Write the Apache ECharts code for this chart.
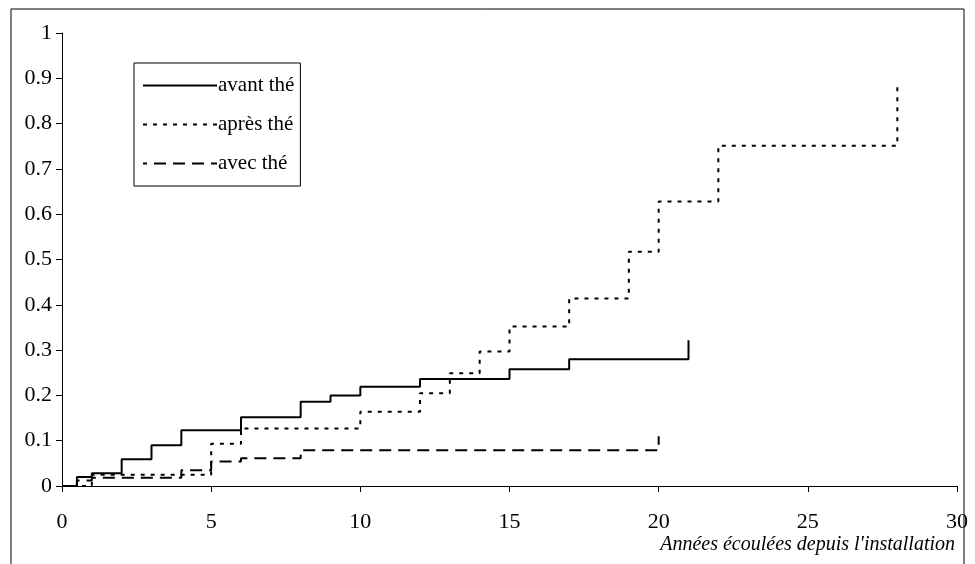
<!DOCTYPE html>
<html>
<head>
<meta charset="utf-8">
<script src="https://cdn.jsdelivr.net/npm/echarts@6/dist/echarts.min.js"></script>
<style>html,body{margin:0;padding:0;background:#fff}#c{width:975px;height:564px}</style>
</head>
<body>
<div id="c"></div>
<script>
// Data
var seriesNames = ['avant thé', 'après thé', 'avec thé'];
var avantX = [0, 0.5, 1, 2, 3, 4, 6, 8, 9, 10, 12, 15, 17, 21];
var avantY = [0, 0.02, 0.028, 0.059, 0.09, 0.123, 0.152, 0.186, 0.2, 0.219, 0.236, 0.258, 0.28, 0.322];
var apresX = [0, 1, 5, 6, 10, 12, 13, 14, 15, 17, 19, 20, 22, 28];
var apresY = [0, 0.025, 0.093, 0.127, 0.164, 0.205, 0.249, 0.297, 0.352, 0.414, 0.517, 0.628, 0.751, 0.892];
var avecX = [0, 0.5, 1, 4, 5, 6, 8, 20];
var avecY = [0, 0.012, 0.018, 0.035, 0.054, 0.061, 0.079, 0.11];
var xAxisTitle = "Années écoulées depuis l'installation";

function pairs(xs, ys) { return xs.map(function (x, i) { return [x, ys[i]]; }); }

var FONT = '"Liberation Serif", "DejaVu Serif", serif';
var chart = echarts.init(document.getElementById('c'), null, {renderer: 'canvas'});

function mk(name, xs, ys, type, offset) {
  return {
    name: name, type: 'line', step: 'end', data: pairs(xs, ys),
    symbol: 'none', showSymbol: false, animation: false,
    lineStyle: {color: '#000', width: 2, type: type, dashOffset: offset || 0, cap: 'butt'},
    itemStyle: {color: '#000'}
  };
}

chart.setOption({
  backgroundColor: '#fff',
  animation: false,
  textStyle: {fontFamily: FONT},
  grid: {left: 62, right: 18, top: 33, bottom: 78},
  legend: {
    orient: 'vertical', left: 134, top: 63,
    data: seriesNames,
    itemWidth: 74, itemHeight: 14, itemGap: 18,
    padding: [12, 6, 12, 8],
    borderColor: '#000', borderWidth: 1,
    itemStyle: {color: 'rgba(0,0,0,0)', borderWidth: 0, opacity: 0},
    textStyle: {fontFamily: FONT, fontSize: 21, color: '#000', padding: [0, 0, 0, -4]}
  },
  xAxis: {
    type: 'value', min: 0, max: 30, interval: 5,
    axisLine: {show: true, onZero: false, lineStyle: {color: '#000', width: 1}},
    axisTick: {show: true, length: 6, lineStyle: {color: '#000'}},
    axisLabel: {fontFamily: FONT, fontSize: 22, color: '#000', margin: 25},
    splitLine: {show: false},
    name: xAxisTitle, nameLocation: 'end', nameGap: -2,
    nameTextStyle: {fontFamily: FONT, fontSize: 20, fontStyle: 'italic', color: '#000',
      align: 'right', verticalAlign: 'top', padding: [49, 0, 0, 0]}
  },
  yAxis: {
    type: 'value', min: 0, max: 1, interval: 0.1,
    axisLine: {show: true, lineStyle: {color: '#000', width: 1}},
    axisTick: {show: true, length: 6, lineStyle: {color: '#000'}},
    axisLabel: {fontFamily: FONT, fontSize: 22, color: '#000', margin: 10},
    splitLine: {show: false}
  },
  graphic: [{
    type: 'rect', z: -1, silent: true,
    shape: {x: 11, y: 9, width: 953, height: 600},
    style: {fill: null, stroke: '#000', lineWidth: 1}
  }],
  series: [
    mk(seriesNames[0], avantX, avantY, 'solid'),
    mk(seriesNames[1], apresX, apresY, [4, 6]),
    mk(seriesNames[2], avecX, avecY, [12, 7], 8)
  ]
});
</script>
</body>
</html>
